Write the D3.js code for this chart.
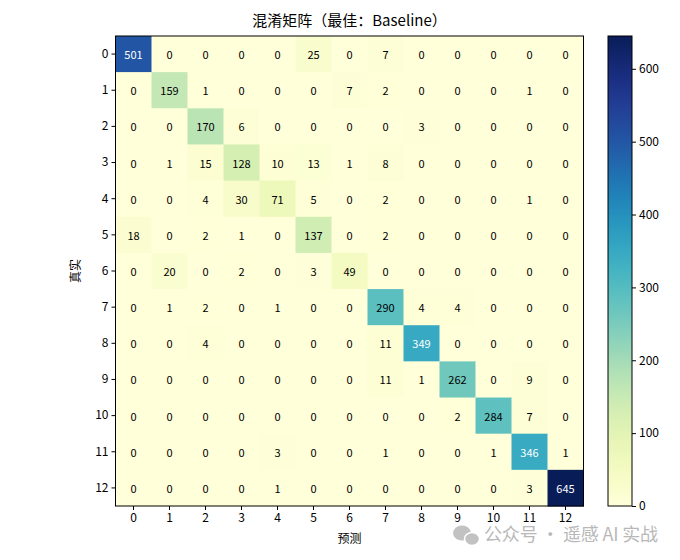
<!DOCTYPE html>
<html><head><meta charset="utf-8">
<script src="https://cdn.jsdelivr.net/npm/d3@7"></script>
<style>body{margin:0;background:#fff}svg{display:block}</style>
</head><body><svg id="c" width="680" height="560"></svg>
<script>
const labels = ["0","1","2","3","4","5","6","7","8","9","10","11","12"];
const matrix = [
  [501,0,0,0,0,25,0,7,0,0,0,0,0],
  [0,159,1,0,0,0,7,2,0,0,0,1,0],
  [0,0,170,6,0,0,0,0,3,0,0,0,0],
  [0,1,15,128,10,13,1,8,0,0,0,0,0],
  [0,0,4,30,71,5,0,2,0,0,0,1,0],
  [18,0,2,1,0,137,0,2,0,0,0,0,0],
  [0,20,0,2,0,3,49,0,0,0,0,0,0],
  [0,1,2,0,1,0,0,290,4,4,0,0,0],
  [0,0,4,0,0,0,0,11,349,0,0,0,0],
  [0,0,0,0,0,0,0,11,1,262,0,9,0],
  [0,0,0,0,0,0,0,0,0,2,284,7,0],
  [0,0,0,0,3,0,0,1,0,0,1,346,1],
  [0,0,0,0,1,0,0,0,0,0,0,3,645]
];
const cbTicks = [0,100,200,300,400,500,600];
const title = "混淆矩阵（最佳：Baseline）";
const xTitle = "预测", yTitle = "真实";

const font = "'Noto Sans CJK SC', 'DejaVu Sans', sans-serif";
const svg = d3.select("#c");
const L = 115.5, T = 36, W = 468, H = 470;
const vmax = d3.max(matrix.flat());
const color = d3.scaleSequential(d3.interpolateYlGnBu).domain([0, vmax]);
const x = d3.scaleBand().domain(labels).range([L, L + W]);
const y = d3.scaleBand().domain(labels).range([T, T + H]);

const cells = [];
matrix.forEach((row, i) => row.forEach((v, j) => cells.push({r: labels[i], c: labels[j], v})));

svg.append("g").selectAll("rect").data(cells).join("rect")
  .attr("x", d => x(d.c)).attr("y", d => y(d.r))
  .attr("width", x.bandwidth() + 0.5).attr("height", y.bandwidth() + 0.5)
  .attr("fill", d => color(d.v));

svg.append("g").selectAll("text").data(cells).join("text")
  .attr("x", d => x(d.c) + x.bandwidth() / 2)
  .attr("y", d => y(d.r) + y.bandwidth() / 2)
  .attr("text-anchor", "middle").attr("dominant-baseline", "central")
  .attr("font-family", font).attr("font-size", 11)
  .attr("fill", d => d.v > vmax / 2 ? "#fff" : "#000")
  .text(d => d.v);

svg.append("rect").attr("x", L).attr("y", T).attr("width", W).attr("height", H)
  .attr("fill", "none").attr("stroke", "#000").attr("stroke-width", 1);

const xa = svg.append("g").attr("transform", `translate(0,${T + H})`)
  .call(d3.axisBottom(x).tickSizeOuter(0).tickSize(4).tickPadding(3));
const ya = svg.append("g").attr("transform", `translate(${L},0)`)
  .call(d3.axisLeft(y).tickSizeOuter(0).tickSize(4).tickPadding(3));
[xa, ya].forEach(a => {
  a.select(".domain").remove();
  a.selectAll("text").attr("font-family", font).attr("font-size", 12).attr("fill", "#000");
  a.selectAll("line").attr("stroke", "#000");
});

svg.append("text").attr("x", L + W / 2).attr("y", 26).attr("text-anchor", "middle")
  .attr("font-family", font).attr("font-size", 15).text(title);
svg.append("text").attr("x", L + W / 2).attr("y", 543).attr("text-anchor", "middle")
  .attr("font-family", font).attr("font-size", 12).text(xTitle);
svg.append("text").attr("transform", `translate(80,${T + H / 2}) rotate(-90)`).attr("text-anchor", "middle")
  .attr("font-family", font).attr("font-size", 12).text(yTitle);

// colorbar
const cbX = 608, cbW = 24;
const cy = d3.scaleLinear().domain([0, vmax]).range([T + H, T]);
const defs = svg.append("defs");
const grad = defs.append("linearGradient").attr("id", "g").attr("x1", 0).attr("y1", 1).attr("x2", 0).attr("y2", 0);
d3.range(0, 1.0001, 0.05).forEach(t => grad.append("stop").attr("offset", t).attr("stop-color", color(t * vmax)));
svg.append("rect").attr("x", cbX).attr("y", T).attr("width", cbW).attr("height", H)
  .attr("fill", "url(#g)").attr("stroke", "#000").attr("stroke-width", 1);
const ca = svg.append("g").attr("transform", `translate(${cbX + cbW},0)`)
  .call(d3.axisRight(cy).tickValues(cbTicks).tickSize(4).tickPadding(3).tickSizeOuter(0));
ca.select(".domain").remove();
ca.selectAll("text").attr("font-family", font).attr("font-size", 12).attr("fill", "#000");

// watermark
const wm = svg.append("g").attr("opacity", 0.6);
wm.append("ellipse").attr("cx", 462).attr("cy", 533).attr("rx", 9).attr("ry", 7.5).attr("fill", "#9a9a9a");
wm.append("ellipse").attr("cx", 472).attr("cy", 539).attr("rx", 7.5).attr("ry", 6.5).attr("fill", "#9a9a9a").attr("stroke", "#fff").attr("stroke-width", 1.5);
wm.append("text").attr("x", 484).attr("y", 541).attr("font-family", font).attr("font-size", 18)
  .attr("fill", "#8a8a8a").attr("textLength", 174).text("公众号 · 遥感 AI 实战");
</script></body></html>
